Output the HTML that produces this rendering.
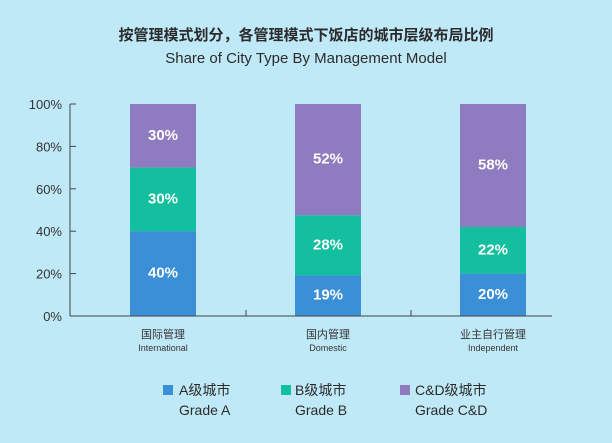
<!DOCTYPE html>
<html><head><meta charset="utf-8"><style>
body{margin:0;width:612px;height:438px;background:#c0e9f8;overflow:hidden;font-family:"Liberation Sans","Noto Sans CJK SC",sans-serif;}
</style></head><body>
<svg width="612" height="438" font-family="Liberation Sans, Noto Sans CJK SC, sans-serif">
<rect width="612" height="438" fill="#c0e9f8"/>
<text x="306" y="40" text-anchor="middle" font-size="15" font-weight="bold" fill="#2b2b2b">按管理模式划分，各管理模式下饭店的城市层级布局比例</text>
<text x="306" y="63" text-anchor="middle" font-size="15" fill="#2b2b2b">Share of City Type By Management Model</text>
<g id="plot"></g>
<g>
<rect x="163" y="385" width="10" height="10" fill="#3a8fd6"/>
<text x="179" y="395" font-size="14" fill="#2b2b2b">A级城市</text>
<text x="179" y="415" font-size="14" fill="#2b2b2b">Grade A</text>
<rect x="281" y="385" width="10" height="10" fill="#13bf9f"/>
<text x="295" y="395" font-size="14" fill="#2b2b2b">B级城市</text>
<text x="295" y="415" font-size="14" fill="#2b2b2b">Grade B</text>
<rect x="400" y="385" width="10" height="10" fill="#8f7bbf"/>
<text x="415" y="395" font-size="14" fill="#2b2b2b">C&amp;D级城市</text>
<text x="415" y="415" font-size="14" fill="#2b2b2b">Grade C&amp;D</text>
</g>
</svg>
<script>
const categoriesCn=["国际管理","国内管理","业主自行管理"];
const categoriesEn=["International","Domestic","Independent"];
const gradeA=[40,19,20];
const gradeB=[30,28,22];
const gradeCD=[30,52,58];
const yTicks=[0,20,40,60,80,100];
const NS="http://www.w3.org/2000/svg";
const g=document.getElementById('plot');
const y0=316,y1=104,xL=70,xR=552,gw=165,x0=81;
const ys=v=>y0-(v/100)*(y0-y1);
const xc=i=>x0+gw*(i+0.5)-0.5;
function mk(t,a){const e=document.createElementNS(NS,t);for(const k in a)e.setAttribute(k,a[k]);g.appendChild(e);return e;}
const series=[[gradeA,"#3a8fd6","a"],[gradeB,"#13bf9f","b"],[gradeCD,"#8f7bbf","cd"]];
categoriesCn.forEach((c,i)=>{
  const total=gradeA[i]+gradeB[i]+gradeCD[i];
  const sc=100/total;
  let base=0;
  series.forEach(([arr,col,key])=>{
    const v=arr[i];
    const b0=base*sc,b1=(base+v)*sc;
    const r=mk('rect',{x:xc(i)-33,y:ys(b1),width:66,height:ys(b0)-ys(b1),fill:col});
    
    
    const t=mk('text',{x:xc(i),y:(ys(b0)+ys(b1))/2+4,'text-anchor':'middle','font-size':15,'font-weight':'bold',fill:'#fff'});
    t.textContent=v+'%';
    
    
    base+=v;
  });
  const l1=mk('text',{x:xc(i),y:338,'text-anchor':'middle','font-size':11,fill:'#333'});
  l1.textContent=c;
  
  
  const l2=mk('text',{x:xc(i),y:351,'text-anchor':'middle','font-size':9,fill:'#333'});
  l2.textContent=categoriesEn[i];
  
  
});
const ax=mk('line',{x1:xL,y1:y1,x2:xL,y2:y0,stroke:'#444','stroke-width':1});


const bx=mk('line',{x1:xL,y1:y0,x2:xR,y2:y0,stroke:'#444','stroke-width':1});


[1,2].forEach(k=>{const t=mk('line',{x1:x0+gw*k,y1:y0,x2:x0+gw*k,y2:y0-6,stroke:'#444'});

});
yTicks.forEach(v=>{
  const t=mk('line',{x1:xL,y1:ys(v),x2:xL+6,y2:ys(v),stroke:'#444'});
  
  
  const l=mk('text',{x:xL-8,y:ys(v)+5,'text-anchor':'end','font-size':13,fill:'#333'});
  l.textContent=v+'%';
  
  
});
</script>
</body></html>
